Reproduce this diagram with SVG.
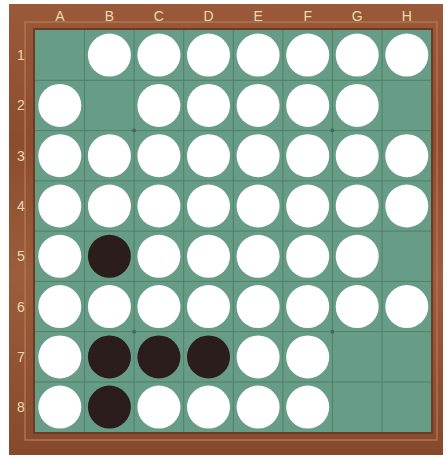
<svg xmlns="http://www.w3.org/2000/svg" width="446" height="457" viewBox="0 0 446 457">
<defs>
<linearGradient id="woodH" x1="0" y1="0" x2="0" y2="1">
<stop offset="0" stop-color="#9a5a3a"/>
<stop offset="0.3" stop-color="#8c4d2f"/>
<stop offset="0.6" stop-color="#9c5d3c"/>
<stop offset="1" stop-color="#87492c"/>
</linearGradient>
<style>
.w{fill:#ffffff}
.b{fill:#2a1d1c}
.lbl{font-family:"Liberation Sans",Arial,sans-serif;font-size:14px;fill:#ead9ae;text-anchor:middle}
.grid{stroke:#4f7f6a;stroke-width:1}
</style>
</defs>
<rect width="446" height="457" fill="#ffffff"/>
<g id="frame">
<rect x="9" y="4" width="434" height="451" fill="url(#woodH)"/>
<rect x="25" y="22" width="412" height="418" fill="none" stroke="#b07350" stroke-width="1.5"/>
<rect x="33" y="28" width="400" height="406" fill="#6e3a22"/>
<rect x="35" y="30" width="396" height="402" fill="#679d86"/>
</g>
<g id="grid">
<path class="grid" d="M84.6 30V432M134.1 30V432M183.7 30V432M233.3 30V432M282.9 30V432M332.4 30V432M382 30V432M35 80.3H431M35 130.6H431M35 180.9H431M35 231.1H431M35 281.4H431M35 331.7H431M35 382H431"/>
<circle cx="134.1" cy="130.6" r="2" fill="#3f6b58"/>
<circle cx="332.4" cy="130.6" r="2" fill="#3f6b58"/>
<circle cx="134.1" cy="331.7" r="2" fill="#3f6b58"/>
<circle cx="332.4" cy="331.7" r="2" fill="#3f6b58"/>
</g>
<g id="labels">
<text class="lbl" x="59.8" y="21">A</text>
<text class="lbl" x="109.4" y="21">B</text>
<text class="lbl" x="158.9" y="21">C</text>
<text class="lbl" x="208.5" y="21">D</text>
<text class="lbl" x="258.1" y="21">E</text>
<text class="lbl" x="307.7" y="21">F</text>
<text class="lbl" x="357.2" y="21">G</text>
<text class="lbl" x="406.8" y="21">H</text>
<text class="lbl" x="21" y="60">1</text>
<text class="lbl" x="21" y="110">2</text>
<text class="lbl" x="21" y="161">3</text>
<text class="lbl" x="21" y="211">4</text>
<text class="lbl" x="21" y="261">5</text>
<text class="lbl" x="21" y="312">6</text>
<text class="lbl" x="21" y="362">7</text>
<text class="lbl" x="21" y="412">8</text>
</g>
<g id="pieces">
<g id="row1">
<circle class="w" cx="109.4" cy="55.1" r="21.5"/><circle class="w" cx="158.9" cy="55.1" r="21.5"/><circle class="w" cx="208.5" cy="55.1" r="21.5"/><circle class="w" cx="258.1" cy="55.1" r="21.5"/><circle class="w" cx="307.7" cy="55.1" r="21.5"/><circle class="w" cx="357.2" cy="55.1" r="21.5"/><circle class="w" cx="406.8" cy="55.1" r="21.5"/>
</g>
<g id="row2">
<circle class="w" cx="59.8" cy="105.4" r="21.5"/><circle class="w" cx="158.9" cy="105.4" r="21.5"/><circle class="w" cx="208.5" cy="105.4" r="21.5"/><circle class="w" cx="258.1" cy="105.4" r="21.5"/><circle class="w" cx="307.7" cy="105.4" r="21.5"/><circle class="w" cx="357.2" cy="105.4" r="21.5"/>
</g>
<g id="row3">
<circle class="w" cx="59.8" cy="155.7" r="21.5"/><circle class="w" cx="109.4" cy="155.7" r="21.5"/><circle class="w" cx="158.9" cy="155.7" r="21.5"/><circle class="w" cx="208.5" cy="155.7" r="21.5"/><circle class="w" cx="258.1" cy="155.7" r="21.5"/><circle class="w" cx="307.7" cy="155.7" r="21.5"/><circle class="w" cx="357.2" cy="155.7" r="21.5"/><circle class="w" cx="406.8" cy="155.7" r="21.5"/>
</g>
<g id="row4">
<circle class="w" cx="59.8" cy="206" r="21.5"/><circle class="w" cx="109.4" cy="206" r="21.5"/><circle class="w" cx="158.9" cy="206" r="21.5"/><circle class="w" cx="208.5" cy="206" r="21.5"/><circle class="w" cx="258.1" cy="206" r="21.5"/><circle class="w" cx="307.7" cy="206" r="21.5"/><circle class="w" cx="357.2" cy="206" r="21.5"/><circle class="w" cx="406.8" cy="206" r="21.5"/>
</g>
<g id="row5">
<circle class="w" cx="59.8" cy="256.3" r="21.5"/><circle class="b" cx="109.4" cy="256.3" r="21.5"/><circle class="w" cx="158.9" cy="256.3" r="21.5"/><circle class="w" cx="208.5" cy="256.3" r="21.5"/><circle class="w" cx="258.1" cy="256.3" r="21.5"/><circle class="w" cx="307.7" cy="256.3" r="21.5"/><circle class="w" cx="357.2" cy="256.3" r="21.5"/>
</g>
<g id="row6">
<circle class="w" cx="59.8" cy="306.6" r="21.5"/><circle class="w" cx="109.4" cy="306.6" r="21.5"/><circle class="w" cx="158.9" cy="306.6" r="21.5"/><circle class="w" cx="208.5" cy="306.6" r="21.5"/><circle class="w" cx="258.1" cy="306.6" r="21.5"/><circle class="w" cx="307.7" cy="306.6" r="21.5"/><circle class="w" cx="357.2" cy="306.6" r="21.5"/><circle class="w" cx="406.8" cy="306.6" r="21.5"/>
</g>
<g id="row7">
<circle class="w" cx="59.8" cy="356.9" r="21.5"/><circle class="b" cx="109.4" cy="356.9" r="21.5"/><circle class="b" cx="158.9" cy="356.9" r="21.5"/><circle class="b" cx="208.5" cy="356.9" r="21.5"/><circle class="w" cx="258.1" cy="356.9" r="21.5"/><circle class="w" cx="307.7" cy="356.9" r="21.5"/>
</g>
<g id="row8">
<circle class="w" cx="59.8" cy="407.1" r="21.5"/><circle class="b" cx="109.4" cy="407.1" r="21.5"/><circle class="w" cx="158.9" cy="407.1" r="21.5"/><circle class="w" cx="208.5" cy="407.1" r="21.5"/><circle class="w" cx="258.1" cy="407.1" r="21.5"/><circle class="w" cx="307.7" cy="407.1" r="21.5"/>
</g>
</g>
</svg>
